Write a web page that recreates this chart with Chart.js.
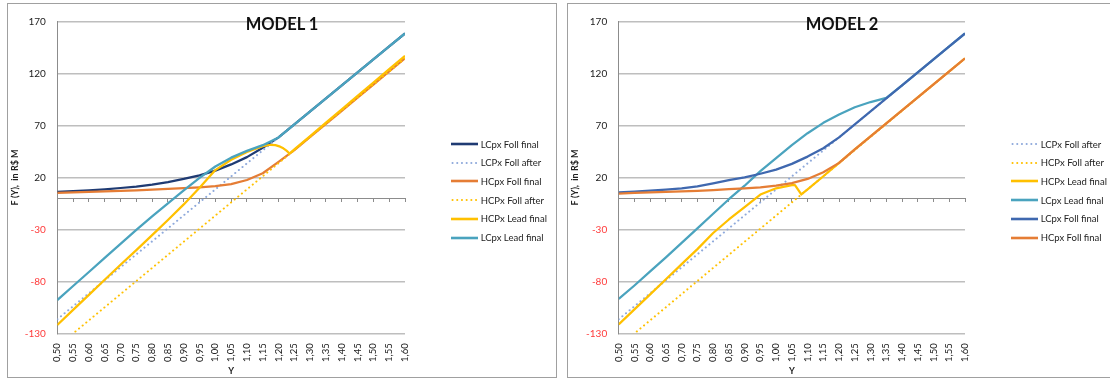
<!DOCTYPE html>
<html>
<head>
<meta charset="utf-8">
<script src="https://cdn.jsdelivr.net/npm/chart.js@4/dist/chart.umd.min.js"></script>
<style>
  html, body { margin: 0; padding: 0; background: #fff; overflow: hidden; width: 1110px; height: 379px; }
  .panel { position: absolute; top: 3px; width: 550px; height: 375px; box-sizing: border-box;
           border: 1px solid #a0a0a0; background: #fff; }
  .panel canvas { position: absolute; left: 0; top: 0; }
  .model { position: absolute; left: 0; top: 10px; width: 548px; line-height: 20px; text-align: center;
           font: bold 16.5px Lato, sans-serif; color: #111; }
  .legend { position: absolute; left: 443px; top: 134px; font: 9.5px Lato, sans-serif; color: #222; }
  .item { position: absolute; left: 0; height: 12px; white-space: nowrap; display: flex; align-items: center; }
  .item svg { margin-right: 2.7px; }
</style>
</head>
<body>
<div class="panel" style="left:7px"><canvas id="c1" width="548" height="373"></canvas>
  <div class="model">MODEL 1</div><div class="legend" id="lg1"></div></div>
<div class="panel" style="left:567px"><canvas id="c2" width="548" height="373"></canvas>
  <div class="model">MODEL 2</div><div class="legend" id="lg2"></div></div>
<script>
// Y levels on the horizontal axis and their printed labels
const Y_LEVELS = [0.50, 0.55, 0.60, 0.65, 0.70, 0.75, 0.80, 0.85, 0.90, 0.95, 1.00, 1.05,
                  1.10, 1.15, 1.20, 1.25, 1.30, 1.35, 1.40, 1.45, 1.50, 1.55, 1.60];
const Y_LABELS = ['0,50', '0,55', '0,60', '0,65', '0,70', '0,75', '0,80', '0,85', '0,90', '0,95', '1,00', '1,05',
                  '1,10', '1,15', '1,20', '1,25', '1,30', '1,35', '1,40', '1,45', '1,50', '1,55', '1,60'];
// F(Y) ticks, R$ M
const F_TICKS = [-130, -80, -30, 20, 70, 120, 170];

// "after" lines, shared by both models
const lcFollAfter = [-116.5, -104, -91.5, -79, -66.5, -54, -41.5, -29, -16.5, -4, 8.5, 21,
                     33.5, 46, 58.5, 71, 83.5, 96, 108.5, 121, 133.5, 146, 158.5];
const hcFollAfter = [-142.7, -130.1, -117.5, -104.9, -92.3, -79.7, -67.1, -54.5, -41.9, -29.3, -16.7, -4.1,
                     8.5, 21.1, 33.7, 46.3, 58.9, 71.5, 84.1, 96.7, 109.3, 121.9, 134.5];

// MODEL 1
const m1LcFollFinal = [6, 6.7, 7.5, 8.5, 9.8, 11.2, 13, 15.5, 18.5, 22, 26.5, 32.5,
                       39.5, 48.5, 58.5, 71, 83.5, 96, 108.5, 121, 133.5, 146, 158.5];
const m1HcFollFinal = [5, 5.5, 6, 6.5, 7, 7.5, 8.2, 9, 9.7, 10.5, 11.5, 13.5,
                       17.5, 24, 35, 46.3, 58.9, 71.5, 84.1, 96.7, 109.3, 121.9, 134.5];
const m1HcLeadY = [0.50, 0.55, 0.60, 0.65, 0.70, 0.75, 0.80, 0.85, 0.90, 0.95, 1.00, 1.05, 1.10, 1.15,
                   1.175, 1.19, 1.205, 1.215, 1.225, 1.235, 1.25, 1.30, 1.35, 1.40, 1.45, 1.50, 1.55, 1.60];
const m1HcLeadFinal = [-122, -107.5, -93, -78.5, -64, -50, -35.5, -21, -6, 10, 27, 37, 44.5, 50,
                       51.4, 51, 49.6, 48, 45.8, 43, 47, 59.8, 72.6, 85.5, 98.4, 111.3, 124.1, 137];
const m1LcLeadFinal = [-98, -84.5, -71, -57.5, -44, -30.5, -17.5, -5, 7.5, 19.5, 30.5, 39,
                       45.5, 51, 58.5, 71, 83.5, 96, 108.5, 121, 133.5, 146, 158.5];

// MODEL 2
const m2HcLeadY = [0.50, 0.55, 0.60, 0.65, 0.70, 0.75, 0.80, 0.85, 0.90, 0.95, 1.00,
                   1.05, 1.06, 1.08, 1.10, 1.15, 1.20, 1.25, 1.30, 1.35, 1.40, 1.45, 1.50, 1.55, 1.60];
const m2HcLeadFinal = [-121.5, -107, -92.5, -78, -63.5, -49, -33.5, -20.5, -8.5, 3.5, 9.5,
                       12.5, 12.6, 3.6, 8.5, 21.1, 34, 47, 59.5, 72, 84.5, 97, 109.5, 122, 134.5];
const m2LcLeadFinal = [-97, -84, -70.5, -57, -43, -29, -15, -1, 12, 26, 38.5, 51,
                       62.5, 72.5, 80.5, 87.5, 92.5, 96.5, 108.5, 121, 133.5, 146, 158.5];
const m2LcFollFinal = [5.5, 6.3, 7.2, 8.2, 9.5, 11.3, 14.3, 17.3, 20, 23.5, 27.5, 33,
                       40, 48, 58.5, 71, 83.5, 96, 108.5, 121, 133.5, 146, 158.5];
const m2HcFollFinal = [4.5, 5, 5.5, 6, 6.5, 7, 7.8, 8.7, 9.5, 10.5, 12, 14.5,
                       18.5, 25, 34, 47, 59.5, 72, 84.5, 97, 109.5, 122, 134.5];

const COL = { navy: '#1F3B73', blue: '#3F68AF', lightBlue: '#8EA9DB', orange: '#E57D35',
              yellow: '#FFC000', teal: '#4AA3BE' };
const DOTS = [0.1, 4.6];

function pts(xs, ys) { return xs.map((x, i) => ({ x: x, y: ys[i] })); }

function series(label, xs, ys, color, dotted) {
  return {
    label: label, data: pts(xs, ys), borderColor: color, backgroundColor: color,
    borderWidth: dotted ? 2 : 2.25, borderDash: dotted ? DOTS : [],
    borderCapStyle: dotted ? 'round' : 'butt', borderJoinStyle: 'round',
    pointRadius: 0, fill: false, tension: 0, xAxisID: 'x', yAxisID: 'y'
  };
}

function buildLegend(el, datasets) {
  const NS = 'http://www.w3.org/2000/svg';
  datasets.forEach((ds, i) => {
    const item = document.createElement('div');
    item.className = 'item';
    item.style.top = (i * 18.7) + 'px';
    const svg = document.createElementNS(NS, 'svg');
    svg.setAttribute('width', '27'); svg.setAttribute('height', '6');
    const ln = document.createElementNS(NS, 'line');
    ln.setAttribute('x1', ds.borderDash.length ? '1.5' : '0'); ln.setAttribute('x2', '27');
    ln.setAttribute('y1', '3'); ln.setAttribute('y2', '3');
    ln.setAttribute('stroke', ds.borderColor);
    ln.setAttribute('stroke-width', ds.borderDash.length ? '2' : '2.6');
    if (ds.borderDash.length) {
      ln.setAttribute('stroke-dasharray', ds.borderDash.join(' '));
      ln.setAttribute('stroke-linecap', 'round');
    }
    svg.appendChild(ln);
    const txt = document.createElement('span');
    txt.textContent = ds.label;
    item.appendChild(svg); item.appendChild(txt);
    el.appendChild(item);
  });
}

const levelTicks = s => { s.ticks = Y_LEVELS.map(v => ({ value: v })); };
const fTicks = s => { s.ticks = F_TICKS.map(v => ({ value: v })); };

function makeChart(canvasId, legendId, datasets, plotLeft) {
  const n = datasets.length;
  datasets.forEach((ds, i) => { ds.order = n - i; });   // later series drawn on top
  buildLegend(document.getElementById(legendId), datasets);
  return new Chart(document.getElementById(canvasId), {
    type: 'line',
    data: { datasets: datasets },
    options: {
      responsive: false, animation: false, devicePixelRatio: 1, events: [],
      layout: { padding: { left: 0, right: 151, top: 7, bottom: 0 } },
      plugins: { legend: { display: false }, tooltip: { enabled: false } },
      scales: {
        x: {
          type: 'linear', min: 0.5, max: 1.6, afterBuildTicks: levelTicks,
          ticks: { callback: (v, i) => Y_LABELS[i], minRotation: 90, maxRotation: 90, autoSkip: false,
                   padding: 10, font: { family: 'Lato', size: 9.5 }, color: '#222' },
          grid: { display: false, drawTicks: false }, border: { display: false },
          title: { display: true, text: 'Y', color: '#222', font: { family: 'Lato', size: 9, weight: 'bold' },
                   padding: { top: 0, bottom: 1 } },
          afterFit: s => { s.height = 43.7; }
        },
        xZero: {
          type: 'linear', axis: 'x', position: { y: 0 }, min: 0.5, max: 1.6, afterBuildTicks: levelTicks,
          ticks: { display: false },
          grid: { drawOnChartArea: false, drawTicks: true, tickLength: 3, color: '#8c8c8c', lineWidth: 1 },
          border: { color: '#8c8c8c', width: 1 }
        },
        y: {
          type: 'linear', min: -130, max: 170, afterBuildTicks: fTicks,
          ticks: { padding: 11.5, font: { family: 'Lato', size: 10 },
                   color: c => (c.tick && c.tick.value < 0) ? '#FF3A3A' : '#222' },
          grid: { color: '#BEBEBE', lineWidth: 1.5, drawTicks: false },
          border: { color: '#8c8c8c', width: 1 },
          title: { display: true, text: 'F (Y),  in R$ M', color: '#222',
                   font: { family: 'Lato', size: 9, weight: 'bold' }, padding: { top: 2, bottom: 0 } },
          afterFit: s => { s.width = plotLeft; }
        }
      }
    }
  });
}

makeChart('c1', 'lg1', [
  series('LCpx Foll final', Y_LEVELS, m1LcFollFinal, COL.navy, false),
  series('LCPx Foll after', Y_LEVELS, lcFollAfter, COL.lightBlue, true),
  series('HCpx Foll final', Y_LEVELS, m1HcFollFinal, COL.orange, false),
  series('HCPx Foll after', Y_LEVELS, hcFollAfter, COL.yellow, true),
  series('HCPx Lead final', m1HcLeadY, m1HcLeadFinal, COL.yellow, false),
  series('LCpx Lead final', Y_LEVELS, m1LcLeadFinal, COL.teal, false)
], 49.3);

makeChart('c2', 'lg2', [
  series('LCPx Foll after', Y_LEVELS, lcFollAfter, COL.lightBlue, true),
  series('HCPx Foll after', Y_LEVELS, hcFollAfter, COL.yellow, true),
  series('HCPx Lead final', m2HcLeadY, m2HcLeadFinal, COL.yellow, false),
  series('LCpx Lead final', Y_LEVELS, m2LcLeadFinal, COL.teal, false),
  series('LCpx Foll final', Y_LEVELS, m2LcFollFinal, COL.blue, false),
  series('HCpx Foll final', Y_LEVELS, m2HcFollFinal, COL.orange, false)
], 50.7);
</script>
</body>
</html>
